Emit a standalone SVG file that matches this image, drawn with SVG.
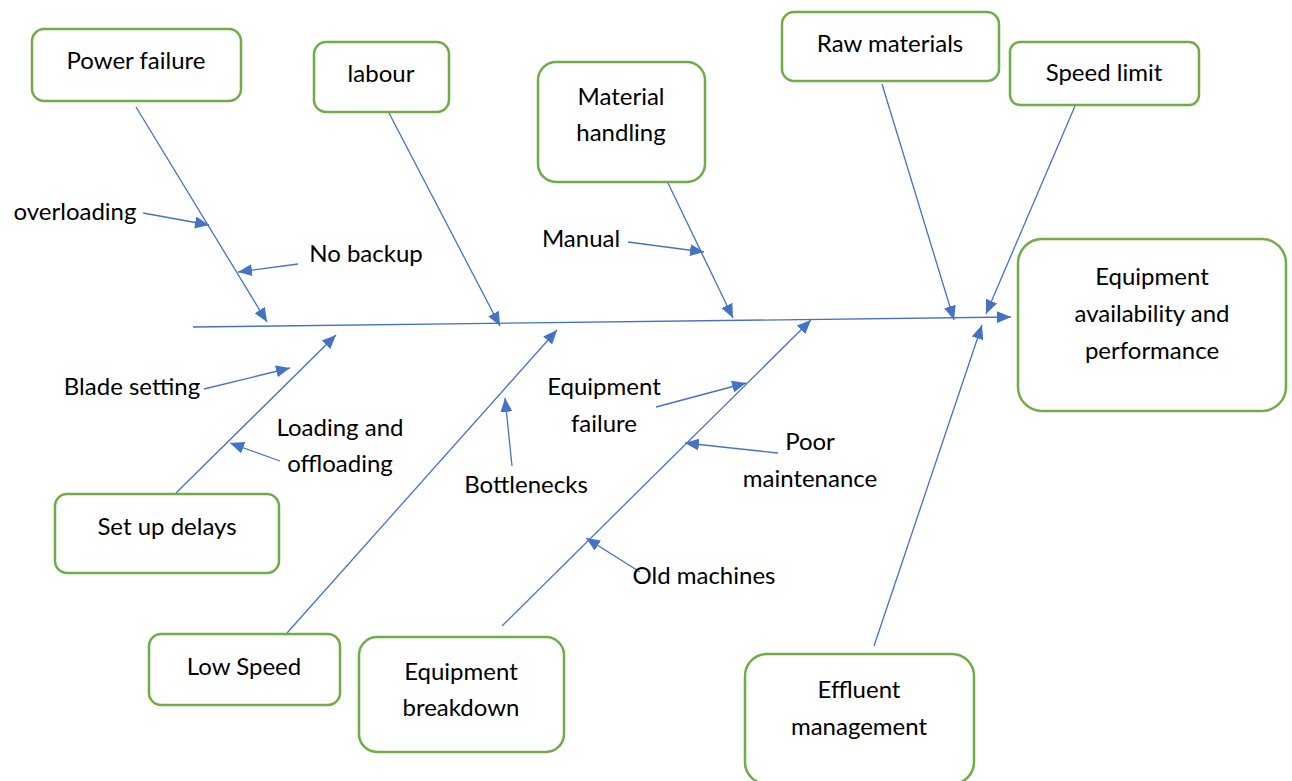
<svg xmlns="http://www.w3.org/2000/svg" width="1292" height="781" viewBox="0 0 1292 781">
  <defs>
    <marker id="head" viewBox="0 0 14 12" refX="14" refY="6" markerWidth="14" markerHeight="12" markerUnits="userSpaceOnUse" orient="auto">
      <path d="M0,0 L14,6 L0,12 z" fill="#4472C4"/>
    </marker>
  </defs>
  <style>
    .box { fill: #ffffff; stroke: #70AD47; stroke-width: 2.5; }
    .lbl { font-family: Lato, "Liberation Sans", sans-serif; font-size: 24px; fill: #000000; text-anchor: middle; }
    .ln { stroke: #4472C4; stroke-width: 1.3; fill: none; marker-end: url(#head); }
  </style>
  <rect width="1292" height="781" fill="#ffffff"/>

  <!-- fishbone connectors -->
  <g id="connectors">
    <line class="ln" x1="193" y1="327" x2="1011" y2="317"/>
    <line class="ln" x1="136" y1="107" x2="267" y2="322"/>
    <line class="ln" x1="143" y1="213" x2="209" y2="225"/>
    <line class="ln" x1="298" y1="264" x2="238" y2="272"/>
    <line class="ln" x1="389" y1="113" x2="500" y2="326"/>
    <line class="ln" x1="668" y1="183" x2="733" y2="318"/>
    <line class="ln" x1="628" y1="242" x2="704" y2="252"/>
    <line class="ln" x1="882" y1="84" x2="954" y2="320"/>
    <line class="ln" x1="1075" y1="106" x2="986" y2="314"/>
    <line class="ln" x1="874" y1="646" x2="982" y2="325"/>
    <line class="ln" x1="176" y1="493" x2="336" y2="335"/>
    <line class="ln" x1="204" y1="389" x2="290" y2="368"/>
    <line class="ln" x1="280" y1="461" x2="230" y2="443"/>
    <line class="ln" x1="287" y1="633" x2="557" y2="330"/>
    <line class="ln" x1="512" y1="466" x2="505" y2="398"/>
    <line class="ln" x1="502" y1="626" x2="811" y2="320"/>
    <line class="ln" x1="656" y1="407" x2="746" y2="383"/>
    <line class="ln" x1="778" y1="453" x2="685" y2="443"/>
    <line class="ln" x1="640" y1="572" x2="586" y2="538"/>
  </g>

  <!-- cause labels -->
  <g id="labels">
    <text class="lbl" x="75" y="220">overloading</text>
    <text class="lbl" x="366" y="262">No backup</text>
    <text class="lbl" x="581" y="247">Manual</text>
    <text class="lbl" x="132" y="395">Blade setting</text>
    <text class="lbl" x="340" y="436">Loading and</text>
    <text class="lbl" x="340" y="472">offloading</text>
    <text class="lbl" x="526" y="493">Bottlenecks</text>
    <text class="lbl" x="604" y="395">Equipment</text>
    <text class="lbl" x="604" y="432">failure</text>
    <text class="lbl" x="810" y="450">Poor</text>
    <text class="lbl" x="810" y="487">maintenance</text>
    <text class="lbl" x="704" y="584">Old machines</text>
  </g>

  <g id="power-failure">
    <rect class="box" x="32" y="29" width="209" height="72" rx="12"/>
    <text class="lbl" x="136" y="69">Power failure</text>
  </g>
  <g id="labour">
    <rect class="box" x="314" y="42" width="135" height="70" rx="12"/>
    <text class="lbl" x="381" y="82">labour</text>
  </g>
  <g id="material-handling">
    <rect class="box" x="538" y="62" width="167" height="120" rx="18"/>
    <text class="lbl" x="621" y="105">Material</text>
    <text class="lbl" x="621" y="141">handling</text>
  </g>
  <g id="raw-materials">
    <rect class="box" x="782" y="12" width="217" height="69" rx="12"/>
    <text class="lbl" x="890" y="52">Raw materials</text>
  </g>
  <g id="speed-limit">
    <rect class="box" x="1010" y="42" width="189" height="63" rx="10"/>
    <text class="lbl" x="1104" y="81">Speed limit</text>
  </g>
  <g id="outcome">
    <rect class="box" x="1018" y="239" width="268" height="172" rx="24"/>
    <text class="lbl" x="1152" y="285">Equipment</text>
    <text class="lbl" x="1152" y="322">availability and</text>
    <text class="lbl" x="1152" y="359">performance</text>
  </g>
  <g id="set-up-delays">
    <rect class="box" x="55" y="494" width="224" height="79" rx="12"/>
    <text class="lbl" x="167" y="535">Set up delays</text>
  </g>
  <g id="low-speed">
    <rect class="box" x="149" y="634" width="191" height="71" rx="12"/>
    <text class="lbl" x="244" y="675">Low Speed</text>
  </g>
  <g id="equipment-breakdown">
    <rect class="box" x="359" y="637" width="205" height="115" rx="18"/>
    <text class="lbl" x="461" y="680">Equipment</text>
    <text class="lbl" x="461" y="716">breakdown</text>
  </g>
  <g id="effluent-management">
    <rect class="box" x="745" y="654" width="229" height="130" rx="22"/>
    <text class="lbl" x="859" y="698">Effluent</text>
    <text class="lbl" x="859" y="735">management</text>
  </g>
</svg>
